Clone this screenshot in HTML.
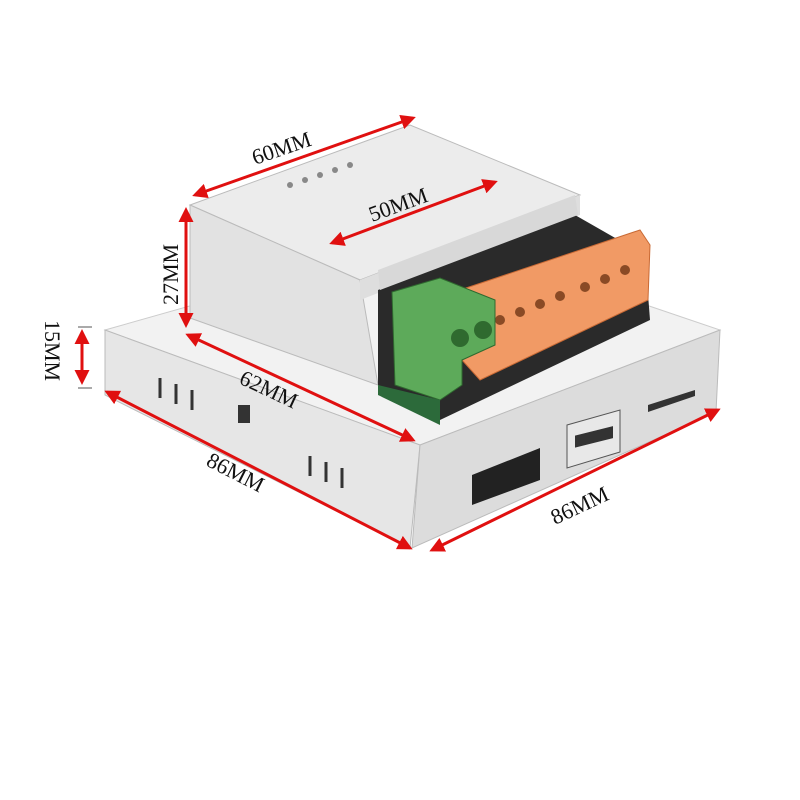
<!DOCTYPE html>
<html><head><meta charset="utf-8"><style>
html,body{margin:0;padding:0;background:#fff;}
svg{display:block}
text{font-family:"Liberation Serif",serif;font-size:22px;fill:#111}
</style></head><body>
<svg width="800" height="800" viewBox="0 0 800 800" xmlns="http://www.w3.org/2000/svg">
<defs>
<marker id="a" viewBox="0 0 10 10" refX="8" refY="5" markerWidth="5" markerHeight="5" orient="auto-start-reverse"><path d="M0,0L10,5L0,10z" fill="#e01010"/></marker>
</defs>
<!-- base plate -->
<polygon points="105,330 440,235 720,330 420,445" fill="#f2f2f2" stroke="#ccc"/>
<polygon points="105,330 420,445 410,548 105,395" fill="#e6e6e6" stroke="#bbb"/>
<polygon points="420,445 720,330 716,412 412,548" fill="#dcdcdc" stroke="#bbb"/>
<!-- slots on left face -->
<g stroke="#333" stroke-width="3">
<line x1="160" y1="378" x2="160" y2="398"/><line x1="176" y1="384" x2="176" y2="404"/><line x1="192" y1="390" x2="192" y2="410"/>
<line x1="310" y1="456" x2="310" y2="476"/><line x1="326" y1="462" x2="326" y2="482"/><line x1="342" y1="468" x2="342" y2="488"/>
</g>
<rect x="238" y="405" width="12" height="18" fill="#333"/>
<!-- right face ports -->
<polygon points="472,475 540,448 540,480 472,505" fill="#222"/>
<polygon points="567,425 620,410 620,452 567,468" fill="#e8e8e8" stroke="#555"/>
<rect x="575" y="432" width="38" height="12" fill="#333" transform="skewY(-14) translate(0,147)"/>
<polygon points="648,405 695,390 695,396 648,412" fill="#333"/>
<!-- upper box -->
<polygon points="190,205 410,125 580,195 360,280" fill="#ececec" stroke="#bbb"/>
<polygon points="190,205 360,280 378,385 190,318" fill="#e2e2e2" stroke="#bbb"/>
<polygon points="360,280 580,195 580,215 360,300" fill="#dedede"/>
<!-- top vents -->
<g fill="#888"><circle cx="290" cy="185" r="3"/><circle cx="305" cy="180" r="3"/><circle cx="320" cy="175" r="3"/><circle cx="335" cy="170" r="3"/><circle cx="350" cy="165" r="3"/></g>
<!-- inner cavity -->
<polygon points="378,290 575,215 645,255 650,320 440,420 378,385" fill="#2a2a2a"/>
<polygon points="378,270 575,195 578,215 380,290" fill="#d8d8d8"/>
<!-- orange terminals -->
<polygon points="460,290 640,230 650,245 648,300 480,380 462,360" fill="#f19a65" stroke="#c96a35"/>
<g fill="#8a4a25">
<circle cx="500" cy="320" r="5"/><circle cx="520" cy="312" r="5"/><circle cx="540" cy="304" r="5"/><circle cx="560" cy="296" r="5"/><circle cx="585" cy="287" r="5"/><circle cx="605" cy="279" r="5"/><circle cx="625" cy="270" r="5"/>
</g>
<!-- green terminal -->
<polygon points="392,292 440,278 495,300 495,345 462,360 462,385 440,400 395,385" fill="#5daa5a" stroke="#2f6a2f"/>
<circle cx="460" cy="338" r="9" fill="#2f6a2f"/><circle cx="483" cy="330" r="9" fill="#2f6a2f"/>
<polygon points="378,385 440,400 440,425 378,395" fill="#2c6a3a"/>
<!-- arrows -->
<g stroke="#e01010" stroke-width="3" fill="none" marker-start="url(#a)" marker-end="url(#a)">
<line x1="195" y1="195" x2="413" y2="118"/>
<line x1="332" y1="243" x2="495" y2="182"/>
<line x1="186" y1="210" x2="186" y2="325"/>
<line x1="82" y1="332" x2="82" y2="382"/>
<line x1="188" y1="335" x2="413" y2="440"/>
<line x1="107" y1="392" x2="410" y2="548"/>
<line x1="432" y1="550" x2="718" y2="410"/>
</g>
<line x1="78" y1="327" x2="92" y2="327" stroke="#555"/><line x1="78" y1="388" x2="92" y2="388" stroke="#555"/>
<text transform="translate(255,165) rotate(-19)">60MM</text>
<text transform="translate(372,222) rotate(-20)">50MM</text>
<text transform="translate(178,305) rotate(-90)">27MM</text>
<text transform="translate(45,320) rotate(90)">15MM</text>
<text transform="translate(238,383) rotate(25)">62MM</text>
<text transform="translate(205,465) rotate(27)">86MM</text>
<text transform="translate(555,525) rotate(-25)">86MM</text>
</svg>
</body></html>
